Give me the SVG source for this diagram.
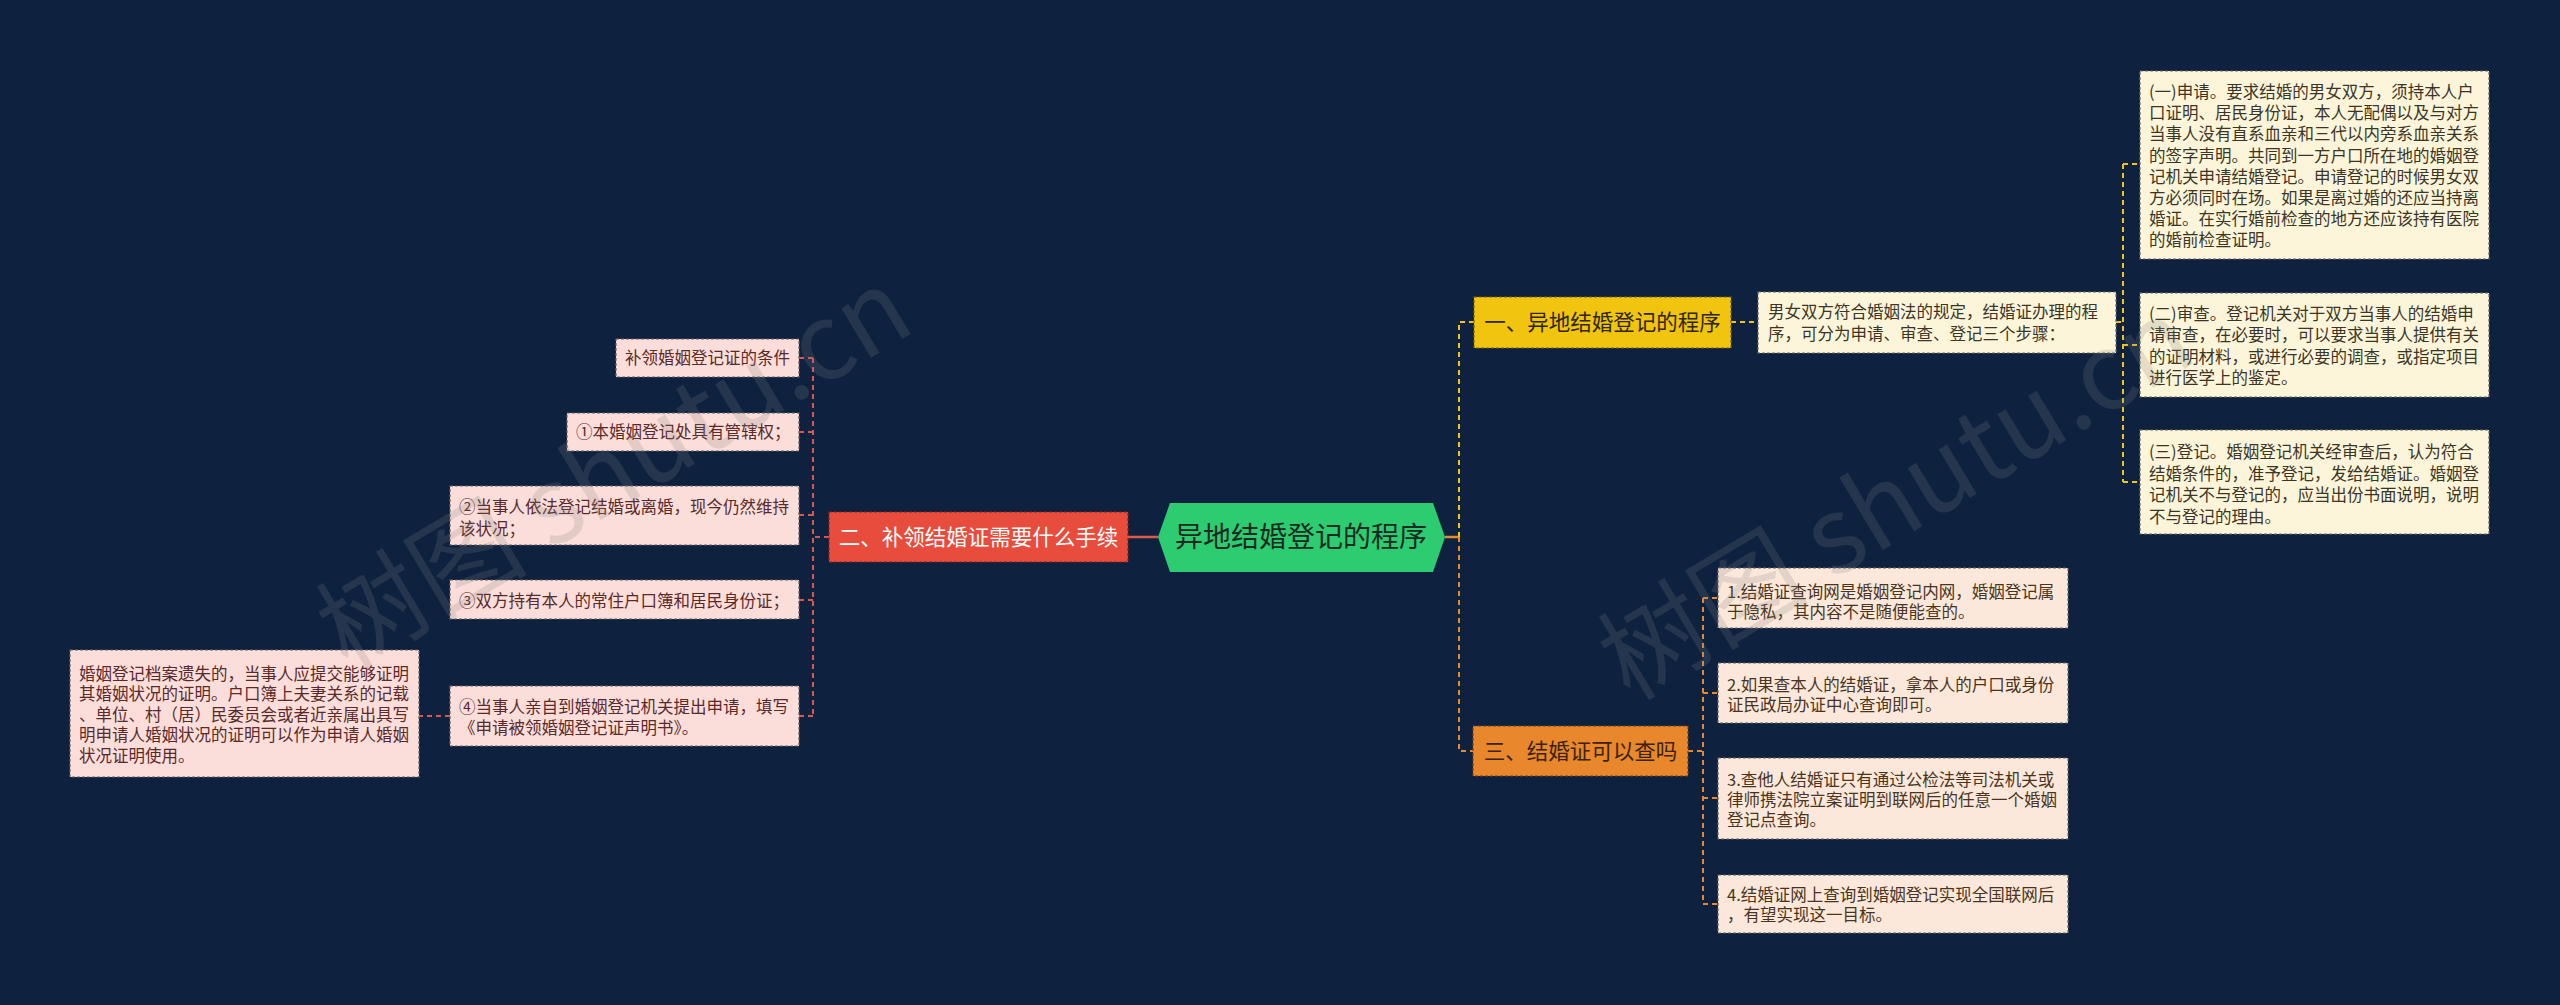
<svg xmlns="http://www.w3.org/2000/svg" width="2560" height="1005" viewBox="0 0 2560 1005">
<style>
text{font-family:"Noto Sans CJK SC","Noto Sans",sans-serif;}
.conn{fill:none;stroke-width:2;stroke-dasharray:5 4;}
.cy{stroke:#F0C419;}
.co{stroke:#E8892D;}
.cr{stroke:#D9574F;}
.bx{stroke-width:1.2;stroke-dasharray:3 2;}
.cream{fill:#FDF5D9;stroke:#6a6a60;}
.pink{fill:#FBDEDA;stroke:#6a6060;}
.peach{fill:#FBE8DA;stroke:#6a6460;}
.s{font-size:16.5px;}
.tc{fill:#3a3526;}
.tp{fill:#5a2a2a;}
.to{fill:#4a3420;}
.b{font-size:21.5px;text-anchor:middle;}
.wm{font-size:106px;fill:#808080;opacity:0.2;font-family:"Noto Sans CJK SC","Liberation Sans",sans-serif;}
</style>
<rect x="0" y="0" width="2560" height="1005" fill="#0E2240"/>

<g id="connectors">
<line x1="1128" y1="537" x2="1158" y2="537" stroke="#E05A4A" stroke-width="2.5"/>
<line x1="1445" y1="537" x2="1459" y2="537" stroke="#E8892D" stroke-width="2.5"/>
<path class="conn cy" d="M1459,537 V322 H1474"/>
<path class="conn co" d="M1459,537 V751 H1473"/>
<path class="conn cy" d="M1731,322 H1758"/>
<path class="conn cy" d="M2116,322 H2123 M2123,164 V482 M2123,164 H2140 M2123,345 H2140 M2123,482 H2140"/>
<path class="conn co" d="M1688,751 H1703 M1703,598 V904 M1703,598 H1718 M1703,693 H1718 M1703,798 H1718 M1703,904 H1718"/>
<path class="conn cr" d="M829,537 H813 M813,358 V716 M813,358 H799 M813,432 H799 M813,515 H799 M813,600 H799 M813,716 H799"/>
<path class="conn cr" d="M450,716 H419"/>
</g>

<g id="center">
<polygon points="1158,537 1170,503 1433,503 1445,537 1433,572 1170,572" fill="#2ECC71"/>
<text x="1301" y="547" font-size="28" text-anchor="middle" fill="#1c2a22">异地结婚登记的程序</text>
</g>

<g id="branch1">
<rect x="1474" y="297" width="257" height="51" fill="#F1C40F" stroke="#7a6408" class="bx"/>
<text class="b" x="1602.5" y="330" fill="#2e2600">一、异地结婚登记的程序</text>
</g>

<g id="b1-intro">
<rect class="bx cream" x="1758" y="292" width="358" height="61"/>
<text class="s tc" x="1768" y="318">男女双方符合婚姻法的规定，结婚证办理的程</text>
<text class="s tc" x="1768" y="339.5">序，可分为申请、审查、登记三个步骤：</text>
</g>

<g id="b1-step1">
<rect class="bx cream" x="2140" y="71" width="349" height="188"/>
<text class="s tc" x="2149" y="98">(一)申请。要求结婚的男女双方，须持本人户</text>
<text class="s tc" x="2149" y="119.2">口证明、居民身份证，本人无配偶以及与对方</text>
<text class="s tc" x="2149" y="140.4">当事人没有直系血亲和三代以内旁系血亲关系</text>
<text class="s tc" x="2149" y="161.6">的签字声明。共同到一方户口所在地的婚姻登</text>
<text class="s tc" x="2149" y="182.8">记机关申请结婚登记。申请登记的时候男女双</text>
<text class="s tc" x="2149" y="204">方必须同时在场。如果是离过婚的还应当持离</text>
<text class="s tc" x="2149" y="225.2">婚证。在实行婚前检查的地方还应该持有医院</text>
<text class="s tc" x="2149" y="246.4">的婚前检查证明。</text>
</g>

<g id="b1-step2">
<rect class="bx cream" x="2140" y="293" width="349" height="104"/>
<text class="s tc" x="2149" y="319.5">(二)审查。登记机关对于双方当事人的结婚申</text>
<text class="s tc" x="2149" y="341">请审查，在必要时，可以要求当事人提供有关</text>
<text class="s tc" x="2149" y="362.5">的证明材料，或进行必要的调查，或指定项目</text>
<text class="s tc" x="2149" y="384">进行医学上的鉴定。</text>
</g>

<g id="b1-step3">
<rect class="bx cream" x="2140" y="430" width="349" height="104"/>
<text class="s tc" x="2149" y="458">(三)登记。婚姻登记机关经审查后，认为符合</text>
<text class="s tc" x="2149" y="479.5">结婚条件的，准予登记，发给结婚证。婚姻登</text>
<text class="s tc" x="2149" y="501">记机关不与登记的，应当出份书面说明，说明</text>
<text class="s tc" x="2149" y="522.5">不与登记的理由。</text>
</g>

<g id="branch2">
<rect x="829" y="512" width="299" height="50" fill="#E74C3C" stroke="#8a2418" class="bx"/>
<text class="b" x="978.5" y="545" fill="#ffffff">二、补领结婚证需要什么手续</text>
</g>

<g id="b2-c1">
<rect class="bx pink" x="616" y="339" width="183" height="38"/>
<text class="s tp" x="625" y="364">补领婚姻登记证的条件</text>
</g>
<g id="b2-c2">
<rect class="bx pink" x="567" y="413" width="232" height="38"/>
<text class="s tp" x="576" y="438">①本婚姻登记处具有管辖权；</text>
</g>
<g id="b2-c3">
<rect class="bx pink" x="450" y="486" width="349" height="59"/>
<text class="s tp" x="459" y="513">②当事人依法登记结婚或离婚，现今仍然维持</text>
<text class="s tp" x="459" y="534.5">该状况；</text>
</g>
<g id="b2-c4">
<rect class="bx pink" x="450" y="580" width="349" height="39"/>
<text class="s tp" x="459" y="607">③双方持有本人的常住户口簿和居民身份证；</text>
</g>
<g id="b2-c5">
<rect class="bx pink" x="450" y="686" width="349" height="60"/>
<text class="s tp" x="459" y="713">④当事人亲自到婚姻登记机关提出申请，填写</text>
<text class="s tp" x="459" y="734">《申请被领婚姻登记证声明书》。</text>
</g>
<g id="b2-c5-note">
<rect class="bx pink" x="70" y="650" width="349" height="127"/>
<text class="s tp" x="79" y="679.5">婚姻登记档案遗失的，当事人应提交能够证明</text>
<text class="s tp" x="79" y="700">其婚姻状况的证明。户口簿上夫妻关系的记载</text>
<text class="s tp" x="79" y="720.5">、单位、村（居）民委员会或者近亲属出具写</text>
<text class="s tp" x="79" y="741">明申请人婚姻状况的证明可以作为申请人婚姻</text>
<text class="s tp" x="79" y="761.5">状况证明使用。</text>
</g>

<g id="branch3">
<rect x="1473" y="726" width="215" height="50" fill="#E8872B" stroke="#7a4010" class="bx"/>
<text class="b" x="1580.5" y="759" fill="#3a2208">三、结婚证可以查吗</text>
</g>

<g id="b3-c1">
<rect class="bx peach" x="1718" y="568" width="350" height="60"/>
<text class="s to" x="1727" y="598">1.结婚证查询网是婚姻登记内网，婚姻登记属</text>
<text class="s to" x="1727" y="618">于隐私，其内容不是随便能查的。</text>
</g>
<g id="b3-c2">
<rect class="bx peach" x="1718" y="663" width="350" height="60"/>
<text class="s to" x="1727" y="691">2.如果查本人的结婚证，拿本人的户口或身份</text>
<text class="s to" x="1727" y="711">证民政局办证中心查询即可。</text>
</g>
<g id="b3-c3">
<rect class="bx peach" x="1718" y="758" width="350" height="81"/>
<text class="s to" x="1727" y="786">3.查他人结婚证只有通过公检法等司法机关或</text>
<text class="s to" x="1727" y="806">律师携法院立案证明到联网后的任意一个婚姻</text>
<text class="s to" x="1727" y="826">登记点查询。</text>
</g>
<g id="b3-c4">
<rect class="bx peach" x="1718" y="875" width="350" height="58"/>
<text class="s to" x="1727" y="901">4.结婚证网上查询到婚姻登记实现全国联网后</text>
<text class="s to" x="1727" y="921">，有望实现这一目标。</text>
</g>

<g id="watermarks">
<text class="wm" x="348" y="672" transform="rotate(-31 348 672)">树图 shutu.cn</text>
<text class="wm" x="1630" y="702" transform="rotate(-31 1630 702)">树图 shutu.cn</text>
</g>
</svg>
